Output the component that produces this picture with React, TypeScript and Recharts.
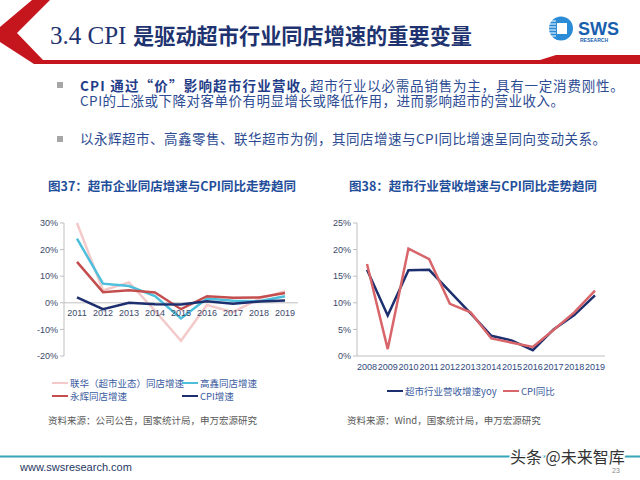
import { LineChart, Line, XAxis, YAxis, ReferenceLine } from "recharts";

// 图37
const yearsA = ["2011", "2012", "2013", "2014", "2015", "2016", "2017", "2018", "2019"];
const lianhua = [30, 4.6, 7.7, -3, -14.3, -0.8, -3.5, 1.5, 4.4];
const gaoxin = [24.1, 7.2, 6.3, 2.5, -5.9, 1.6, 0.8, 0.6, 2.5];
const yonghui = [15.4, 4, 4.7, 3.9, -2.4, 2.5, 1.9, 2, 3.7];
const cpiA = [2, -2.4, 0, -0.5, -0.6, 0.6, -0.4, 0.5, 0.9];
const ticksA = [-20, -10, 0, 10, 20, 30];

// 图38
const yearsB = ["2008", "2009", "2010", "2011", "2012", "2013", "2014", "2015", "2016", "2017", "2018", "2019"];
const revenueYoy = [16.2, 7.6, 16.1, 16.2, 12.1, 8.0, 3.8, 2.9, 1.1, 5.0, 7.7, 11.4];
const cpiB = [17.3, 1.3, 20.2, 18.2, 9.8, 8.2, 3.3, 2.5, 1.7, 4.9, 8.2, 12.3];
const ticksB = [0, 5, 10, 15, 20, 25];

const seriesA = [
  { key: "lianhua", name: "联华（超市业态）同店增速", color: "#F3C9C9", values: lianhua },
  { key: "gaoxin", name: "高鑫同店增速", color: "#4DBFDC", values: gaoxin },
  { key: "yonghui", name: "永辉同店增速", color: "#C44E4E", values: yonghui },
  { key: "cpi", name: "CPI增速", color: "#1D2F6F", values: cpiA },
];
const seriesB = [
  { key: "yoy", name: "超市行业营收增速yoy", color: "#1D2F6F", values: revenueYoy },
  { key: "cpi", name: "CPI同比", color: "#D8656A", values: cpiB },
];

const dataA = yearsA.map((y, i) => {
  const row: Record<string, string | number> = { year: y };
  seriesA.forEach((s) => (row[s.key] = s.values[i]));
  return row;
});
const dataB = yearsB.map((y, i) => {
  const row: Record<string, string | number> = { year: y };
  seriesB.forEach((s) => (row[s.key] = s.values[i]));
  return row;
});

const sans = "'Liberation Sans', Arial, 'Noto Sans CJK SC', sans-serif";
const cjk = "'Noto Sans CJK SC', sans-serif";
const tickFill = "#3B4A6B";
const axisGrey = "#BFBFBF";
const bodyBlue = "#2D4C93";

// year labels sit just under the 0% line
const ZeroTick = (props: any) => {
  const { x, y, payload } = props;
  return (
    <text x={x} y={y - 48} textAnchor="middle" fontSize={9} fill={tickFill} fontFamily={sans}>
      {payload.value}
    </text>
  );
};

export default function App() {
  return (
    <div style={{ position: "absolute", left: 0, top: 0, width: 640, height: 480, background: "#fff", overflow: "hidden" }}>
      <svg width={640} height={480} style={{ position: "absolute", left: 0, top: 0 }}>
        {/* header */}
        <polygon points="32,0 50,0 17,33 43,60 640,60 640,64 34,64 0,42 0,27" fill="#C5161D" />
        <polygon points="540,60 556,55 640,55 640,60" fill="#C5161D" />
        <text x={50} y={44} fontFamily="'Liberation Serif', serif" fontSize={25} fill="#1E3370">3.4 CPI</text>
        <text x={133} y={44} fontFamily={cjk} fontWeight="bold" fontSize={21.2} fill="#1E3370">是驱动超市行业同店增速的重要变量</text>

        {/* logo */}
        <circle cx={561} cy={28.5} r={12} fill="#2A8BD6" />
        <rect x={557} y={23} width={10} height={11} fill="#fff" />
        {[21, 24, 27, 30, 33, 36].map((yy) => (
          <line key={yy} x1={549} x2={556} y1={yy} y2={yy} stroke="#fff" strokeWidth={1} />
        ))}
        <text x={578} y={34.5} fontFamily={sans} fontWeight="bold" fontSize={18} fill="#1A5FAE">SWS</text>
        <text x={580} y={41.5} fontFamily={sans} fontWeight="bold" fontSize={5} fill="#1A5FAE">RESEARCH</text>

        {/* bullets */}
        <rect x={57} y={82} width={6} height={6} fill="#A6A6A6" />
        <rect x={57} y={136} width={6} height={6} fill="#A6A6A6" />
        <text x={80} y={90.5} fontFamily={cjk} fontSize={13.5} fontWeight="bold" fill="#1F3C88" letterSpacing={1.2}>
          CPI 通过“价”影响超市行业营收。
        </text>
        <text x={310} y={90.5} fontFamily={cjk} fontSize={13.5} fill={bodyBlue} letterSpacing={0.8}>
          超市行业以必需品销售为主，具有一定消费刚性。
        </text>
        <text x={80} y={105.5} fontFamily={cjk} fontSize={13.5} fill={bodyBlue} letterSpacing={0.5}>
          CPI的上涨或下降对客单价有明显增长或降低作用，进而影响超市的营业收入。
        </text>
        <text x={80} y={144} fontFamily={cjk} fontSize={13.5} fill={bodyBlue} letterSpacing={0.5}>
          以永辉超市、高鑫零售、联华超市为例，其同店增速与CPI同比增速呈同向变动关系。
        </text>

        {/* chart titles */}
        <text x={48} y={191} fontFamily={cjk} fontWeight="bold" fontSize={12.5} fill="#1F4E9A">图37：超市企业同店增速与CPI同比走势趋同</text>
        <text x={349} y={191} fontFamily={cjk} fontWeight="bold" fontSize={12.5} fill="#1F4E9A">图38：超市行业营收增速与CPI同比走势趋同</text>

        {/* legend 37 */}
        {seriesA.map((s, i) => {
          const lx = i % 2 === 0 ? 52 : 182;
          const ly = i < 2 ? 383 : 396;
          return (
            <g key={s.key}>
              <line x1={lx} x2={lx + 16} y1={ly} y2={ly} stroke={s.color} strokeWidth={2} />
              <text x={lx + 18} y={ly + 3.5} fontFamily={cjk} fontSize={9.5} fill="#3A5BA0">{s.name}</text>
            </g>
          );
        })}
        <text x={48} y={424} fontFamily={cjk} fontSize={9.5} fill="#595959">资料来源：公司公告，国家统计局，申万宏源研究</text>

        {/* legend 38 */}
        {seriesB.map((s, i) => {
          const lx = i === 0 ? 387 : 503;
          return (
            <g key={s.key}>
              <line x1={lx} x2={lx + 16} y1={391} y2={391} stroke={s.color} strokeWidth={2} />
              <text x={lx + 18} y={394.5} fontFamily={cjk} fontSize={9.5} fill="#3A5BA0">{s.name}</text>
            </g>
          );
        })}
        <text x={347} y={424} fontFamily={cjk} fontSize={9.5} fill="#595959">资料来源：Wind，国家统计局，申万宏源研究</text>

        {/* footer */}
        <line x1={0} x2={640} y1={456.5} y2={456.5} stroke="#37A6BA" strokeWidth={2} />
        <text x={20} y={471} fontFamily={sans} fontSize={11} fill="#1F3864">www.swsresearch.com</text>
      </svg>

      <div style={{ position: "absolute", left: 0, top: 210, width: 310, height: 160 }}>
        <LineChart width={310} height={160} data={dataA} margin={{ top: 13, right: 12, bottom: 0, left: 0 }}>
          <XAxis
            dataKey="year"
            height={14}
            interval={0}
            padding={{ left: 13, right: 13 }}
            axisLine={false}
            tickLine={false}
            tick={<ZeroTick />}
          />
          <YAxis
            width={64}
            domain={[-20, 30]}
            ticks={ticksA}
            tickFormatter={(v) => `${v}%`}
            tick={{ fontSize: 9, fill: tickFill, fontFamily: sans }}
            axisLine={{ stroke: axisGrey }}
            tickLine={{ stroke: axisGrey }}
            tickSize={4}
          />
          <ReferenceLine y={0} stroke={axisGrey} />
          {seriesA.map((s) => (
            <Line key={s.key} dataKey={s.key} stroke={s.color} strokeWidth={2.5} dot={false} type="linear" isAnimationActive={false} />
          ))}
        </LineChart>
      </div>

      <div style={{ position: "absolute", left: 300, top: 210, width: 320, height: 165 }}>
        <LineChart width={320} height={165} data={dataB} margin={{ top: 13, right: 15, bottom: 0, left: 0 }}>
          <XAxis
            dataKey="year"
            height={19}
            interval={0}
            padding={{ left: 10, right: 10 }}
            axisLine={{ stroke: axisGrey }}
            tickLine={false}
            tick={{ fontSize: 9, fill: "#2F4A80", fontFamily: sans }}
          />
          <YAxis
            width={57}
            domain={[0, 25]}
            ticks={ticksB}
            tickFormatter={(v) => `${v}%`}
            tick={{ fontSize: 9, fill: tickFill, fontFamily: sans }}
            axisLine={{ stroke: axisGrey }}
            tickLine={{ stroke: axisGrey }}
            tickSize={4}
          />
          {seriesB.map((s) => (
            <Line key={s.key} dataKey={s.key} stroke={s.color} strokeWidth={2.5} dot={false} type="linear" isAnimationActive={false} />
          ))}
        </LineChart>
      </div>

      <svg width={640} height={480} style={{ position: "absolute", left: 0, top: 0, pointerEvents: "none" }}>
        <text x={510} y={463} fontFamily={cjk} fontSize={16} fill="#333" stroke="#fff" strokeWidth={3} paintOrder="stroke">头条 @未来智库</text>
        <text x={612} y={473} fontFamily={sans} fontSize={7} fill="#888">23</text>
      </svg>
    </div>
  );
}
